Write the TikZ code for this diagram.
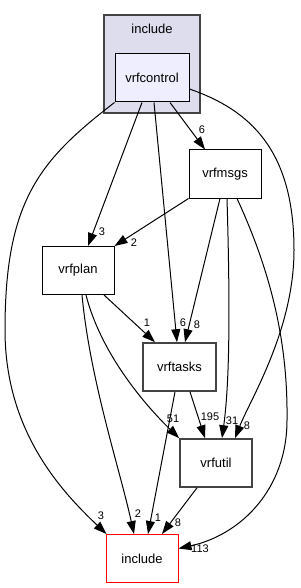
\documentclass[tikz,border=0pt]{standalone}
\usepackage{fontspec}
\setmainfont{Liberation Sans}
\usetikzlibrary{arrows.meta}
\definecolor{clusterfill}{HTML}{DDDDEE}
\definecolor{innerfill}{HTML}{EEEEFF}
\definecolor{darkborder}{HTML}{444444}
\begin{document}
\begin{tikzpicture}[x=1pt,y=-1pt,
  dirbox/.style={draw=black, line width=1pt, minimum width=72pt, minimum height=48pt,
    inner sep=0pt, font=\fontsize{13}{15}\selectfont, fill=white},
  heavybox/.style={dirbox, draw=darkborder, line width=1.6pt},
  clusterbox/.style={draw=darkborder, line width=1.6pt, fill=clusterfill,
    minimum width=96pt, minimum height=98pt, inner sep=0pt},
  conn/.style={line width=1pt, -{Triangle[length=13pt,width=9pt]}},
  lbl/.style={font=\fontsize{11}{13}\selectfont, inner sep=0pt}]
\useasboundingbox (0,0) rectangle (300,588);

% cluster
\node[clusterbox] (clu) at (152,64) {};
\node[font=\fontsize{13}{15}\selectfont, inner sep=0pt] (clulbl) at (152,29) {include};

% nodes
\node[dirbox, fill=innerfill, minimum width=74pt] (vrfc) at (152,78) {vrfcontrol};
\node[dirbox] (msgs) at (225,174) {vrfmsgs};
\node[dirbox] (plan) at (78,270.5) {vrfplan};
\node[heavybox, minimum width=73pt] (tasks) at (179.5,367) {vrftasks};
\node[heavybox] (util) at (216,463) {vrfutil};
\node[dirbox, draw=red] (inc) at (142,558.5) {include};

% edges
\draw[conn] ([xshift=18pt]vrfc.south) -- ([xshift=-20pt]msgs.north);
\draw[conn] ([xshift=-10pt]vrfc.south) -- ([xshift=10pt]plan.north);
\draw[conn] ([xshift=2pt]vrfc.south) -- ([xshift=-2.5pt]tasks.north);
\draw[conn] ([yshift=-11pt]vrfc.east) .. controls (250,110) and (294,150) .. (294,250)
  .. controls (294,330) and (250,400) .. ([xshift=19pt]util.north);
\draw[conn] (vrfc.south west) .. controls (40,160) and (5,200) .. (5,330)
  .. controls (5,430) and (60,490) .. ([xshift=1pt]inc.north west);
\draw[conn] (msgs.south west) -- (plan.north east);
\draw[conn] ([xshift=-5pt]msgs.south) -- ([xshift=5.5pt]tasks.north);
\draw[conn] ([xshift=2pt]msgs.south) .. controls (230,300) and (230,380) .. ([xshift=6pt]util.north);
\draw[conn] ([xshift=12pt]msgs.south) .. controls (270,270) and (288,340) .. (287,420)
  .. controls (287,490) and (240,535) .. ([yshift=10pt]inc.east);
\draw[conn] ([xshift=26pt]plan.south) -- ([xshift=-24.5pt]tasks.north);
\draw[conn] ([xshift=8pt]plan.south) .. controls (100,350) and (140,400) .. (util.north west);
\draw[conn] ([xshift=4pt]plan.south) .. controls (90,380) and (120,470) .. ([xshift=-8pt]inc.north);
\draw[conn] ([xshift=-4.5pt]tasks.south) -- ([xshift=6pt]inc.north);
\draw[conn] ([xshift=10.5pt]tasks.south) -- ([xshift=-11pt]util.north);
\draw[conn] ([xshift=-19pt]util.south) -- ([xshift=20pt]inc.north);

% labels
\node[lbl] (l1) at (202,130) {6};
\node[lbl] (l2) at (102,232) {3};
\node[lbl] (l3) at (134,243) {2};
\node[lbl] (l4) at (147,323) {1};
\node[lbl] (l5) at (183,323) {6};
\node[lbl] (l6) at (197,325) {8};
\node[lbl] (l7) at (173,419) {51};
\node[lbl] (l8) at (210,417) {195};
\node[lbl] (l9) at (232,421) {31};
\node[lbl] (l10) at (247,426) {8};
\node[lbl] (l11) at (101,516) {3};
\node[lbl] (l12) at (138,514) {2};
\node[lbl] (l13) at (158,518) {1};
\node[lbl] (l14) at (178,523) {8};
\node[lbl] (l15) at (200,549) {113};
\end{tikzpicture}
\end{document}
